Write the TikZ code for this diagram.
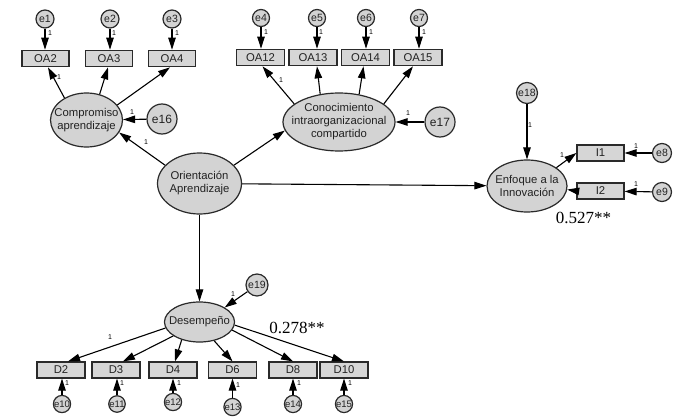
\documentclass[tikz,border=0pt]{standalone}
\usepackage{fontspec}
\setmainfont{Liberation Sans}
\newfontfamily\numfont{Liberation Serif}
\usetikzlibrary{shapes.geometric,arrows.meta}
\definecolor{latfill}{HTML}{D3D3D3}
\definecolor{obsfill}{HTML}{D6D6D6}
\definecolor{edge}{HTML}{2A2A2A}
\definecolor{txt}{HTML}{222222}
\begin{document}
\begin{tikzpicture}[x=1pt,y=-1pt,
  lat/.style={ellipse, draw=edge, line width=1.2pt, fill=latfill, inner sep=0pt},
  lattext/.style={align=center, inner sep=0pt, text=txt, font=\fontsize{11.3}{13}\selectfont},
  obs/.style={rectangle, draw=edge, line width=1.2pt, fill=obsfill, minimum width=48pt, minimum height=16.5pt, inner sep=0pt, text=txt, font=\fontsize{11.3}{12}\selectfont},
  err/.style={circle, draw=edge, line width=1.2pt, fill=latfill, inner sep=0pt, text=txt},
  arr/.style={-{Triangle[length=12pt,width=7.5pt]}, line width=1.1pt, draw=black},
  one/.style={font=\fontsize{7}{8}\selectfont, inner sep=0pt},
  coef/.style={font=\numfont\fontsize{17}{18}\selectfont, inner sep=0pt}]
\useasboundingbox (0,0) rectangle (679,417);

% ---- Compromiso block
\node[err, minimum size=18pt, font=\fontsize{10.5}{10}\selectfont] (e1) at (45,19) {e1};
\node[err, minimum size=18pt, font=\fontsize{10.5}{10}\selectfont] (e2) at (110,19) {e2};
\node[err, minimum size=18pt, font=\fontsize{10.5}{10}\selectfont] (e3) at (172,19) {e3};
\node[obs, minimum width=47pt] (oa2) at (45.5,58.5) {OA2};
\node[obs, minimum width=47pt] (oa3) at (109,58.5) {OA3};
\node[obs, minimum width=47pt] (oa4) at (172,58.5) {OA4};
\node[lat, minimum width=72pt, minimum height=54pt] (comp) at (86.5,120) {};
\node[lattext] (compt) at (comp) {Compromiso\\aprendizaje};
\node[err, minimum size=30pt, font=\fontsize{12}{12}\selectfont] (e16) at (162,119) {e16};

% ---- Conocimiento block
\node[err, minimum size=17pt, font=\fontsize{10.5}{10}\selectfont] (e4) at (261,18) {e4};
\node[err, minimum size=17pt, font=\fontsize{10.5}{10}\selectfont] (e5) at (317,18) {e5};
\node[err, minimum size=17pt, font=\fontsize{10.5}{10}\selectfont] (e6) at (366,18) {e6};
\node[err, minimum size=17pt, font=\fontsize{10.5}{10}\selectfont] (e7) at (419,18) {e7};
\node[obs] (oa12) at (260.5,57.5) {OA12};
\node[obs] (oa13) at (313,57.5) {OA13};
\node[obs] (oa14) at (365.5,57.5) {OA14};
\node[obs] (oa15) at (418,57.5) {OA15};
\node[lat, minimum width=112pt, minimum height=58pt] (con) at (339,122) {};
\node[lattext] (cont) at (con) {Conocimiento\\intraorganizacional\\compartido};
\node[err, minimum size=30pt, font=\fontsize{12}{12}\selectfont] (e17) at (440,122) {e17};

% ---- Orientacion
\node[lat, minimum width=84pt, minimum height=61pt] (ori) at (199.5,183.5) {};
\node[lattext] (orit) at (ori) {Orientación\\Aprendizaje};

% ---- Enfoque block
\node[err, minimum size=21pt, font=\fontsize{10.5}{10.5}\selectfont] (e18) at (527,93) {e18};
\node[lat, minimum width=80pt, minimum height=52pt] (enf) at (527,186) {};
\node[lattext] (enft) at (enf) {Enfoque a la\\Innovación};
\node[obs, minimum width=47pt, minimum height=16pt] (i1) at (600.5,153) {I1};
\node[obs, minimum width=47pt, minimum height=16pt] (i2) at (600.5,191) {I2};
\node[err, minimum size=19pt, font=\fontsize{10.5}{10}\selectfont] (e8) at (662,153) {e8};
\node[err, minimum size=19pt, font=\fontsize{10.5}{10}\selectfont] (e9) at (662,192) {e9};
\node[coef] (c1) at (583.5,218) {0.527**};

% ---- Desempeno block
\node[lat, minimum width=70pt, minimum height=40pt] (des) at (199.5,322) {};
\node[lattext] (dest) at (des) {Desempeño};
\node[err, minimum size=22pt, font=\fontsize{10.5}{10}\selectfont] (e19) at (257,285) {e19};
\node[coef] (c2) at (297,328) {0.278**};
\node[obs, minimum height=16pt] (d2) at (61,370) {D2};
\node[obs, minimum height=16pt] (d3) at (116,370) {D3};
\node[obs, minimum height=16pt] (d4) at (173,370) {D4};
\node[obs, minimum height=16pt] (d6) at (232.5,370) {D6};
\node[obs, minimum height=16pt] (d8) at (293,370) {D8};
\node[obs, minimum height=16pt] (d10) at (344,370) {D10};
\node[err, minimum size=16pt, font=\fontsize{9.5}{9}\selectfont] (e10) at (62,404) {e10};
\node[err, minimum size=16pt, font=\fontsize{9.5}{9}\selectfont] (e11) at (117,404) {e11};
\node[err, minimum size=16pt, font=\fontsize{9.5}{9}\selectfont] (e12) at (173,402) {e12};
\node[err, minimum size=16pt, font=\fontsize{9.5}{9}\selectfont] (e13) at (232.5,407) {e13};
\node[err, minimum size=16pt, font=\fontsize{9.5}{9}\selectfont] (e14) at (293,404) {e14};
\node[err, minimum size=16pt, font=\fontsize{9.5}{9}\selectfont] (e15) at (344,404) {e15};

% ---- connectors
\draw[arr] (e1) -- (e1 |- oa2.north);
\draw[arr] (e2) -- (e2 |- oa3.north);
\draw[arr] (e3) -- (e3 |- oa4.north);
\draw[arr] (comp.135) -- ([xshift=2.5pt]oa2.south);
\draw[arr] (comp.63) -- ([xshift=-1pt]oa3.south);
\draw[arr] (comp.26) -- ([xshift=-2pt]oa4.south);
\draw[arr] (e16) -- (comp);

\draw[arr] (e4) -- (e4 |- oa12.north);
\draw[arr] (e5) -- (e5 |- oa13.north);
\draw[arr] (e6) -- (e6 |- oa14.north);
\draw[arr] (e7) -- (e7 |- oa15.north);
\draw[arr] (con.158) -- ([xshift=2pt]oa12.south);
\draw[arr] (con.124) -- ([xshift=4pt]oa13.south);
\draw[arr] (con.54) -- ([xshift=-2pt]oa14.south);
\draw[arr] (con.22) -- ([xshift=-5pt]oa15.south);
\draw[arr] (e17) -- (con);

\draw[arr] (ori.152) -- (comp.-21);
\draw[arr] (ori.28) -- (con.189);
\draw[arr] (ori) -- (enf);
\draw[arr] (ori) -- (des);

\draw[arr] (e18) -- (enf);
\draw[arr] (enf.32) -- (i1.west);
\draw[arr] (i2.west) -- (enf.-5);
\draw[arr] (e8) -- (i1);
\draw[arr] (e9) -- (i2);

\draw[arr] (e19) -- (des.30);
\draw[arr] (des.190) -- ([xshift=7pt]d2.north);
\draw[arr] (des.208) -- ([xshift=7pt]d3.north);
\draw[arr] (des.225) -- ([xshift=2pt]d4.north);
\draw[arr] (des.308) -- (d6.north);
\draw[arr] (des.-14) -- (d8.north);
\draw[arr] (des.-5) -- (d10.north);
\draw[arr] (e10) -- (e10 |- d2.south);
\draw[arr] (e11) -- (e11 |- d3.south);
\draw[arr] (e12) -- (e12 |- d4.south);
\draw[arr] (e13) -- (e13 |- d6.south);
\draw[arr] (e14) -- (e14 |- d8.south);
\draw[arr] (e15) -- (e15 |- d10.south);

% ---- "1" labels
\node[one] (l1) at (50,33) {1};
\node[one] (l2) at (114,33) {1};
\node[one] (l3) at (177,33) {1};
\node[one] (l4) at (59,77) {1};
\node[one] (l5) at (132,112) {1};
\node[one] (l6) at (146,142) {1};
\node[one] (l7) at (266,32) {1};
\node[one] (l8) at (321,32) {1};
\node[one] (l9) at (371,32) {1};
\node[one] (l10) at (424,32) {1};
\node[one] (l11) at (281,80) {1};
\node[one] (l12) at (408,113) {1};
\node[one] (l13) at (530,125) {1};
\node[one] (l14) at (562,155) {1};
\node[one] (l15) at (636,146) {1};
\node[one] (l16) at (636,184) {1};
\node[one] (l17) at (233,294) {1};
\node[one] (l18) at (110,337) {1};
\node[one] (l19) at (67,383) {1};
\node[one] (l20) at (122,383) {1};
\node[one] (l21) at (179,383) {1};
\node[one] (l22) at (238,385) {1};
\node[one] (l23) at (299,383) {1};
\node[one] (l24) at (350,383) {1};
\end{tikzpicture}
\end{document}
